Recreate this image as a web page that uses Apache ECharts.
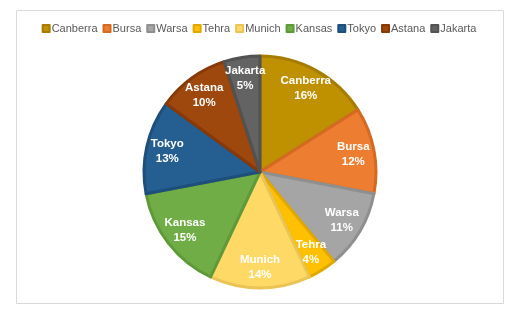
<!DOCTYPE html>
<html><head><meta charset="utf-8">
<script src="https://cdn.jsdelivr.net/npm/echarts@6/dist/echarts.min.js"></script>
<style>html,body{margin:0;padding:0;background:#fff}#c{width:518px;height:309px}</style>
</head><body><div id="c"></div>
<script>
const categories = ['Canberra','Bursa','Warsa','Tehra','Munich','Kansas','Tokyo','Astana','Jakarta'];
const values = [16,12,11,4,14,15,13,10,5];
const colors = ['#BF9000','#ED7D31','#A5A5A5','#FFC000','#FFD966','#70AD47','#255E91','#9E480E','#636363'];
const borderColors = ['#A67D00','#D46A22','#8F8F8F','#E0A800','#EAC455','#5F9A3A','#1E4E7A','#87390A','#525252'];

const data = categories.map((n,i)=>({name:n,value:values[i],itemStyle:{color:colors[i],borderColor:borderColors[i],borderWidth:3}}));
const labelData = categories.map((n,i)=>({name:n,value:values[i]}));
const chart = echarts.init(document.getElementById('c'));
chart.setOption({
  animation:false,
  graphic:[{type:'rect',shape:{x:16.5,y:10.5,width:487,height:293},style:{fill:'none',stroke:'#D9D9D9',lineWidth:1},silent:true}],
  legend:{top:18,left:'center',itemWidth:7,itemHeight:7,itemGap:5,icon:'rect',
    data:categories,
    textStyle:{color:'#595959',fontSize:11,fontFamily:'Liberation Sans',padding:[0,0,0,-3]}},
  series:[
    {type:'pie',center:[260,172],radius:[0,116],startAngle:90,clockwise:true,
     data:data,label:{show:false},labelLine:{show:false},silent:true},
    {type:'pie',center:[260,172],radius:[68,116],startAngle:90,clockwise:true,
     data:labelData,silent:true,legendHoverLink:false,
     itemStyle:{color:'rgba(0,0,0,0)',borderWidth:0},
     label:{show:true,position:'inside',color:'#fff',fontWeight:'bold',fontSize:11.5,lineHeight:15,
       fontFamily:'Liberation Sans',formatter:p=>p.name+'\n'+Math.round(p.percent)+'%'},
     labelLine:{show:false}}
  ]
});
</script></body></html>
